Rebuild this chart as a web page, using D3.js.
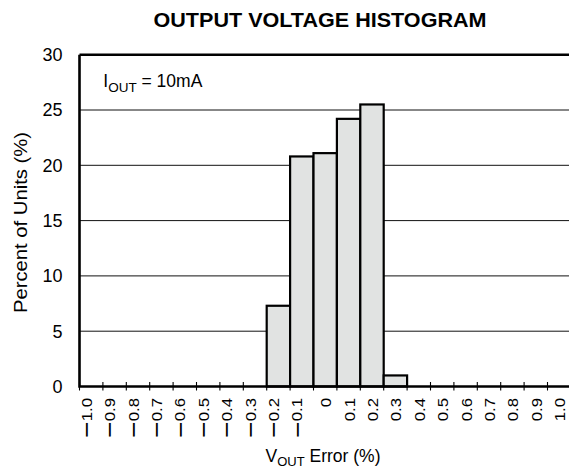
<!DOCTYPE html>
<html>
<head>
<meta charset="utf-8">
<script src="https://cdn.jsdelivr.net/npm/d3@7"></script>
<style>
  html, body { margin: 0; padding: 0; background: #fff; }
  svg { display: block; font-family: "Liberation Sans", Arial, Helvetica, sans-serif; }
</style>
</head>
<body>
<svg id="chart" width="569" height="468"></svg>
<script>
// ---- data ----
const categories = ["−1.0","−0.9","−0.8","−0.7","−0.6","−0.5","−0.4","−0.3","−0.2","−0.1","0",
                    "0.1","0.2","0.3","0.4","0.5","0.6","0.7","0.8","0.9","1.0"];
const percentOfUnits = [0,0,0,0,0,0,0,0,7.3,20.8,21.1,24.2,25.5,1.0,0,0,0,0,0,0,0];
const yTicks = [0,5,10,15,20,25,30];
const gridTicks = [5,10,15,20,25];

const svg = d3.select("#chart");
const left = 79.5, bandW = 23.4;
const x = d3.scaleBand().domain(categories).range([left, left + categories.length * bandW]).padding(0);
const y = d3.scaleLinear().domain([0, 30]).range([386.5, 54.7]);

// title
svg.append("text")
  .attr("x", 320).attr("y", 27.3)
  .attr("text-anchor", "middle")
  .attr("font-weight", "bold")
  .attr("font-size", 20.5)
  .attr("textLength", 333).attr("lengthAdjust", "spacingAndGlyphs")
  .text("OUTPUT VOLTAGE HISTOGRAM");

// gridlines
svg.append("g").selectAll("line").data(gridTicks).join("line")
  .attr("x1", left).attr("x2", 572)
  .attr("y1", d => y(d)).attr("y2", d => y(d))
  .attr("stroke", "#111").attr("stroke-width", 1);

// x ticks at band edges (crossing the axis)
const edges = categories.map(c => x(c));
svg.append("g").selectAll("line").data(edges).join("line")
  .attr("x1", d => d).attr("x2", d => d)
  .attr("y1", y(0) - 4.5).attr("y2", y(0) + 4)
  .attr("stroke", "#000").attr("stroke-width", 1.1);

// bars
svg.append("g").selectAll("rect")
  .data(categories.map((c, i) => ({c, v: percentOfUnits[i]})).filter(d => d.v > 0))
  .join("rect")
  .attr("x", d => x(d.c)).attr("width", x.bandwidth())
  .attr("y", d => y(d.v)).attr("height", d => y(0) - y(d.v))
  .attr("fill", "#e1e3e2").attr("stroke", "#000").attr("stroke-width", 2.2);

// frame (right edge outside the view)
svg.append("path")
  .attr("d", `M${left},${y(30)}H575M${left},${y(30)}V${y(0)}H575`)
  .attr("fill", "none").attr("stroke", "#000").attr("stroke-width", 2.6);

// y tick labels
svg.append("g").selectAll("text").data(yTicks).join("text")
  .attr("x", 62.5).attr("y", d => y(d)).attr("dy", "0.36em")
  .attr("text-anchor", "end").attr("font-size", 18)
  .text(d => d);

// x tick labels (rotated); the minus sign drawn larger like the reference
const tl = svg.append("g").selectAll("text").data(categories).join("text")
  .attr("transform", d => `translate(${x(d) + x.bandwidth() / 2 + 0.5},398) rotate(-90) scale(1.12,1)`)
  .attr("dy", "0.36em")
  .attr("text-anchor", "end").attr("font-size", 15);
tl.each(function(d) {
  const t = d3.select(this);
  if (d.startsWith("−")) {
    t.append("tspan").attr("font-size", 25).attr("dy", 3.3).text("−");
    t.append("tspan").attr("dy", -3.3).text(d.slice(1));
  } else {
    t.text(d);
  }
});

// y axis title
svg.append("text")
  .attr("transform", "translate(26.7,222.5) rotate(-90)")
  .attr("text-anchor", "middle").attr("font-size", 17.7)
  .attr("textLength", 181).attr("lengthAdjust", "spacingAndGlyphs")
  .text("Percent of Units (%)");

// x axis title
const xt = svg.append("text")
  .attr("x", 323).attr("y", 461.7)
  .attr("text-anchor", "middle").attr("font-size", 17.5);
xt.append("tspan").text("V");
xt.append("tspan").attr("font-size", 13).attr("dy", 4.3).text("OUT");
xt.append("tspan").attr("dy", -4.3).text(" Error (%)");

// annotation
const an = svg.append("text")
  .attr("x", 103.3).attr("y", 86.7).attr("font-size", 17.5);
an.append("tspan").text("I");
an.append("tspan").attr("font-size", 13.5).attr("dy", 5).text("OUT");
an.append("tspan").attr("dy", -5).text(" = 10mA");
</script>
</body>
</html>
